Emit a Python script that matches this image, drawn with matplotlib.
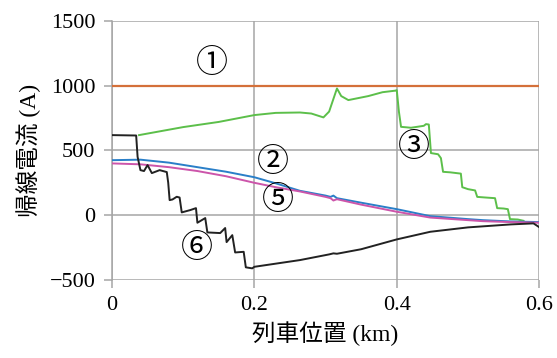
import matplotlib.pyplot as plt

# 位置 (km) と帰線電流 (A) — 図から読み取った値
x_line1 = [0.0, 0.6]
y_line1 = [1000, 1000]

x_line3 = [0.038, 0.06, 0.1, 0.15, 0.2, 0.23, 0.264, 0.28, 0.297, 0.305, 0.316,
           0.322, 0.332, 0.36, 0.38, 0.398, 0.4, 0.403, 0.406, 0.42, 0.438,
           0.441, 0.445, 0.448, 0.458, 0.462, 0.465, 0.475, 0.49, 0.492, 0.5,
           0.51, 0.513, 0.525, 0.538, 0.541, 0.55, 0.556, 0.559, 0.57, 0.578]
y_line3 = [618, 640, 680, 720, 773, 790, 793, 785, 755, 800, 979,
           920, 889, 920, 950, 962, 966, 800, 682, 675, 690,
           703, 700, 479, 470, 440, 334, 330, 320, 215, 200,
           190, 140, 135, 130, 53, 50, 45, -32, -35, -45]

x_line2 = [0.0, 0.04, 0.08, 0.12, 0.16, 0.2, 0.23, 0.264, 0.3, 0.307, 0.311,
           0.316, 0.35, 0.4, 0.447, 0.5, 0.521, 0.56, 0.6]
y_line2 = [424, 428, 405, 370, 335, 292, 245, 187, 150, 140, 150,
           130, 95, 45, -9, -32, -40, -50, -55]

x_line5 = [0.0, 0.04, 0.08, 0.12, 0.16, 0.2, 0.23, 0.264, 0.3, 0.307, 0.311,
           0.316, 0.35, 0.4, 0.447, 0.5, 0.521, 0.56, 0.6]
y_line5 = [399, 392, 370, 340, 300, 249, 215, 182, 140, 130, 112,
           122, 80, 25, -20, -40, -48, -55, -60]

x_line6 = [0.0, 0.034, 0.036, 0.04, 0.045, 0.05, 0.056, 0.067, 0.077, 0.079,
           0.081, 0.085, 0.091, 0.095, 0.098, 0.11, 0.118, 0.12, 0.131, 0.134,
           0.152, 0.159, 0.161, 0.169, 0.173, 0.185, 0.188, 0.197, 0.2, 0.264,
           0.305, 0.311, 0.316, 0.35, 0.4, 0.447, 0.5, 0.56, 0.592, 0.6]
y_line6 = [618, 615, 450, 347, 340, 386, 324, 347, 332, 250,
           115, 120, 141, 135, 20, 38, 53, -60, -24, -135,
           -140, -101, -210, -156, -290, -285, -405, -413, -401, -349,
           -305, -297, -300, -265, -189, -130, -96, -73, -65, -94]

labels = ['①', '②', '③', '⑤', '⑥']
label_x = [0.14, 0.226, 0.424, 0.233, 0.119]
label_y = [1173, 411, 527, 115, -259]

xticks = [0, 0.2, 0.4, 0.6]
xtick_labels = ['0', '0.2', '0.4', '0.6']
yticks = [-500, 0, 500, 1000, 1500]
ytick_labels = ['\u2212500', '0', '500', '1000', '1500']

jp = ['Liberation Serif', 'Noto Sans CJK JP']

fig = plt.figure(figsize=(5.57, 3.58), dpi=100)
ax = fig.add_axes([0.201, 0.219, 0.767, 0.722])

ax.plot(x_line1, y_line1, color='#d4703a', lw=1.6, zorder=3)
ax.plot(x_line3, y_line3, color='#5cbf4a', lw=1.4, zorder=3)
ax.plot(x_line2, y_line2, color='#2a7fc8', lw=1.4, zorder=3)
ax.plot(x_line5, y_line5, color='#cc55aa', lw=1.4, zorder=3)
ax.plot(x_line6, y_line6, color='#222222', lw=1.4, zorder=4)

for s, lx, ly in zip(labels, label_x, label_y):
    ax.text(lx, ly, s, fontsize=23, family=['Noto Sans CJK JP', 'DejaVu Sans'],
            ha='center', va='center', zorder=5)

ax.set_xlim(0, 0.6)
ax.set_ylim(-500, 1500)
ax.set_xticks(xticks)
ax.set_xticklabels(xtick_labels, family='Liberation Serif', fontsize=16)
ax.set_yticks(yticks)
ax.set_yticklabels(ytick_labels, family='Liberation Serif', fontsize=16)
ax.grid(True, color='#a6a6a6', lw=1.1)
ax.set_axisbelow(True)
for side in ['top', 'right', 'bottom']:
    ax.spines[side].set_visible(False)
ax.spines['left'].set_color('#a6a6a6')
ax.spines['left'].set_linewidth(1.1)
ax.tick_params(axis='both', color='#a6a6a6', width=1.1, length=6, pad=6)

ax.set_xlabel('列車位置 (km)', family=jp, fontsize=17, labelpad=4)
ax.set_ylabel('帰線電流 (A)', family=jp, fontsize=17, labelpad=6)

plt.savefig('out.png', dpi=100)
